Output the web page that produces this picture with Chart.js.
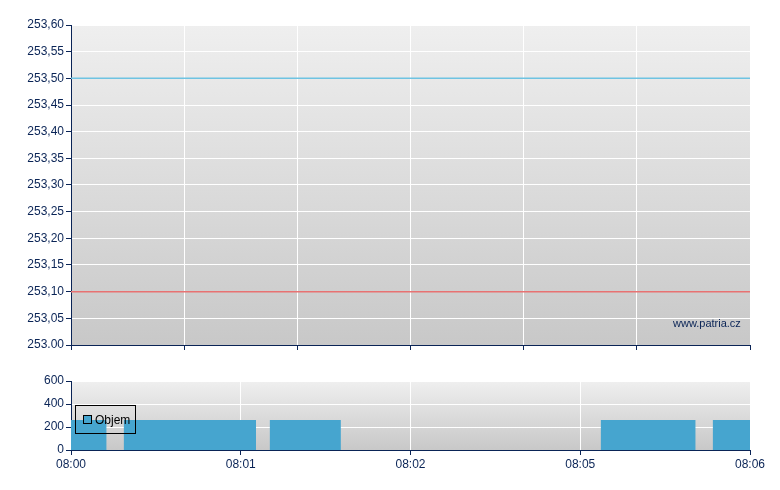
<!DOCTYPE html>
<html>
<head>
<meta charset="utf-8">
<script src="https://cdn.jsdelivr.net/npm/chart.js@4/dist/chart.umd.min.js"></script>
<style>
    body { margin: 0; background: #fff; font-family: "Liberation Sans", Arial, sans-serif; }
    #wrap { position: relative; width: 780px; height: 490px; }
    canvas { position: absolute; left: 0; }
    #legend { position: absolute; left: 75px; top: 405px; width: 59px; height: 27px; border: 1px solid #000; font-size: 12px; color: #000; }
    #legend span.box { position: absolute; left: 7px; top: 9px; width: 7px; height: 7px; border: 1px solid #000; background: #46a5cf; }
    #legend span.txt { position: absolute; left: 19px; top: 7px; }
    #mark { position: absolute; left: 673px; top: 317px; font-size: 11px; color: #0a2456; }
</style>
</head>
<body>
<div id="wrap">
    <canvas id="top" width="780" height="370" style="top:0"></canvas>
    <canvas id="bottom" width="780" height="130" style="top:360px"></canvas>
    <div id="mark">www.patria.cz</div>
    <div id="legend"><span class="box"></span><span class="txt">Objem</span></div>
</div>
<script>
// top chart
const topTimes = [0, 6];
const blueLine = [253.50, 253.50];
const redLine = [253.10, 253.10];

// bottom chart
const timeLabels = ['08:00', '08:01', '08:02', '08:05', '08:06'];
const volStart = [0, 0.31, 1.17, 3.12, 3.78];
const volEnd = [0.21, 1.09, 1.59, 3.68, 4];
const volValue = [260, 260, 260, 260, 260];

const navy = '#0a2456';
const fontSet = { family: '"Liberation Sans", Arial, sans-serif', size: 12 };

const bgPlugin = {
    id: 'bg',
    beforeDraw(chart) {
        const a = chart.chartArea;
        const c = chart.ctx;
        const g = c.createLinearGradient(0, a.top, 0, a.bottom);
        g.addColorStop(0, '#efefef');
        g.addColorStop(1, '#c8c8c8');
        c.save();
        c.fillStyle = g;
        c.fillRect(a.left, a.top, a.right - a.left, a.bottom - a.top);
        c.restore();
    }
};

function pts(xs, ys) {
    return xs.map((x, i) => ({ x: x, y: ys[i] }));
}

new Chart(document.getElementById('top'), {
    type: 'line',
    data: {
        datasets: [
            { data: pts(topTimes, blueLine), borderColor: '#6ec3e2', borderWidth: 1.5, pointRadius: 0 },
            { data: pts(topTimes, redLine), borderColor: '#e87272', borderWidth: 1.5, pointRadius: 0 }
        ]
    },
    options: {
        responsive: false,
        animation: false,
        events: [],
        layout: { padding: { left: 0, top: 25, right: 30, bottom: 0 } },
        plugins: { legend: { display: false }, tooltip: { enabled: false } },
        scales: {
            x: {
                type: 'linear', min: 0, max: 6,
                ticks: { stepSize: 1, callback: () => '', font: fontSet },
                grid: { color: '#ffffff', tickColor: navy, tickLength: 5, lineWidth: 1 },
                border: { color: navy, width: 1 },
                afterFit: s => { s.height = 25; }
            },
            y: {
                min: 253.0, max: 253.6,
                ticks: {
                    stepSize: 0.05, color: navy, font: fontSet, padding: 2,
                    // the bottom label is printed with a dot in the original
                    callback: (v, i) => i === 0 ? v.toFixed(2) : v.toFixed(2).replace('.', ',')
                },
                grid: { color: '#ffffff', tickColor: navy, tickLength: 5 },
                border: { color: navy, width: 1 },
                afterFit: s => { s.width = 71; }
            }
        }
    },
    plugins: [bgPlugin]
});

// volume blocks: each block is start/end points joined, broken by a gap
const volData = [];
volStart.forEach((s, i) => {
    volData.push({ x: s, y: volValue[i] });
    volData.push({ x: volEnd[i], y: volValue[i] });
    volData.push({ x: volEnd[i], y: null });
});

new Chart(document.getElementById('bottom'), {
    type: 'line',
    data: {
        datasets: [{
            label: 'Objem',
            data: volData,
            borderWidth: 0,
            borderColor: 'rgba(0,0,0,0)',
            backgroundColor: '#46a5cf',
            fill: 'origin',
            pointRadius: 0,
            spanGaps: false
        }]
    },
    options: {
        responsive: false,
        animation: false,
        events: [],
        layout: { padding: { left: 0, top: 21, right: 30, bottom: 0 } },
        plugins: { legend: { display: false }, tooltip: { enabled: false } },
        scales: {
            x: {
                type: 'linear', min: 0, max: 4,
                ticks: { stepSize: 1, color: navy, font: fontSet, padding: 2, maxRotation: 0,
                    callback: v => timeLabels[v] },
                grid: { color: '#ffffff', tickColor: navy, tickLength: 5 },
                border: { color: navy, width: 1 },
                afterFit: s => { s.height = 40; }
            },
            y: {
                min: 0, max: 600,
                ticks: { stepSize: 200, color: navy, font: fontSet, padding: 2 },
                grid: { color: '#ffffff', tickColor: navy, tickLength: 5 },
                border: { color: navy, width: 1 },
                afterFit: s => { s.width = 71; }
            }
        }
    },
    plugins: [bgPlugin]
});
</script>
</body>
</html>
